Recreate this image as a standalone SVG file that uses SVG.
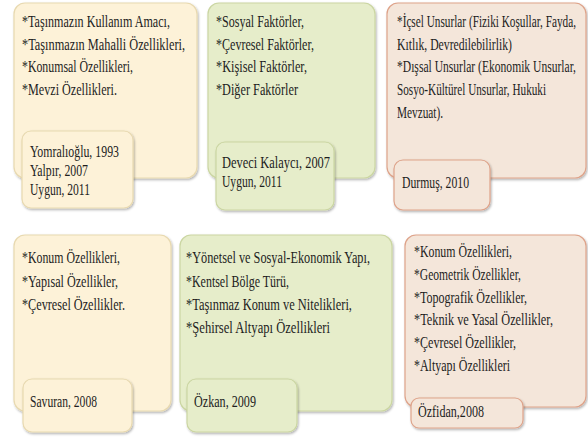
<svg xmlns="http://www.w3.org/2000/svg" width="588" height="437" viewBox="0 0 588 437">
<defs>
<filter id="sh" x="-10%" y="-10%" width="125%" height="130%">
<feDropShadow dx="1" dy="1.5" stdDeviation="1.2" flood-color="#000" flood-opacity="0.3"/>
</filter>
</defs>
<style>
.y{fill:#fdf2d8;stroke:#e8d9b0;stroke-width:1.2}
.g{fill:#e6edca;stroke:#cbd6a2;stroke-width:1.2}
.p{fill:#f4e6da;stroke:#dea38a;stroke-width:1.2}
.b{filter:url(#sh)}
text{font-family:"Liberation Serif","Times New Roman",serif;font-size:16px;fill:#1e1e1e}
</style>
<rect width="588" height="437" fill="#ffffff"/>
<g id="nodeA">
<rect class="y b" x="14" y="3" width="183" height="175" rx="11"/>
<g transform="translate(22 0) scale(0.78 1)">
<text x="0" y="27" textLength="189.7" lengthAdjust="spacingAndGlyphs">*Taşınmazın Kullanım Amacı,</text>
<text x="0" y="50" textLength="209" lengthAdjust="spacingAndGlyphs">*Taşınmazın Mahalli Özellikleri,</text>
<text x="0" y="72" textLength="142.3" lengthAdjust="spacingAndGlyphs">*Konumsal Özellikleri,</text>
<text x="0" y="95" textLength="121.8" lengthAdjust="spacingAndGlyphs">*Mevzi Özellikleri.</text>
</g>
</g>
<g id="refA">
<rect class="y b" x="22" y="131" width="111" height="77" rx="9"/>
<g transform="translate(30 0) scale(0.78 1)">
<text x="0" y="157" textLength="114.1" lengthAdjust="spacingAndGlyphs">Yomralıoğlu, 1993</text>
<text x="0" y="176" textLength="74.4" lengthAdjust="spacingAndGlyphs">Yalpır, 2007</text>
<text x="0" y="195" textLength="76.9" lengthAdjust="spacingAndGlyphs">Uygun, 2011</text>
</g>
</g>
<g id="nodeB">
<rect class="g b" x="208" y="3" width="167" height="175" rx="11"/>
<g transform="translate(216 0) scale(0.78 1)">
<text x="0" y="27" textLength="112.8" lengthAdjust="spacingAndGlyphs">*Sosyal Faktörler,</text>
<text x="0" y="50" textLength="125.6" lengthAdjust="spacingAndGlyphs">*Çevresel Faktörler,</text>
<text x="0" y="72" textLength="116.7" lengthAdjust="spacingAndGlyphs">*Kişisel Faktörler,</text>
<text x="0" y="95" textLength="105.1" lengthAdjust="spacingAndGlyphs">*Diğer Faktörler</text>
</g>
</g>
<g id="refB">
<rect class="g b" x="216" y="142" width="118" height="68" rx="9"/>
<g transform="translate(222 0) scale(0.78 1)">
<text x="0" y="168" textLength="138.5" lengthAdjust="spacingAndGlyphs">Deveci Kalaycı, 2007</text>
<text x="0" y="187" textLength="76.9" lengthAdjust="spacingAndGlyphs">Uygun, 2011</text>
</g>
</g>
<g id="nodeC">
<rect class="p b" x="387" y="3" width="199" height="175" rx="11"/>
<g transform="translate(397 0) scale(0.7 1)">
<text x="0" y="27" textLength="255.7" lengthAdjust="spacingAndGlyphs">*İçsel Unsurlar (Fiziki Koşullar, Fayda,</text>
<text x="0" y="50" textLength="164.3" lengthAdjust="spacingAndGlyphs">Kıtlık, Devredilebilirlik)</text>
<text x="0" y="72" textLength="255.7" lengthAdjust="spacingAndGlyphs">*Dışsal Unsurlar (Ekonomik Unsurlar,</text>
<text x="0" y="95" textLength="212.9" lengthAdjust="spacingAndGlyphs">Sosyo-Kültürel Unsurlar, Hukuki</text>
<text x="0" y="118" textLength="65.7" lengthAdjust="spacingAndGlyphs">Mevzuat).</text>
</g>
</g>
<g id="refC">
<rect class="p b" x="394" y="160" width="96" height="50" rx="9"/>
<g transform="translate(402 0) scale(0.78 1)">
<text x="0" y="188" textLength="85.9" lengthAdjust="spacingAndGlyphs">Durmuş, 2010</text>
</g>
</g>
<g id="nodeD">
<rect class="y b" x="14" y="235" width="157" height="176" rx="11"/>
<g transform="translate(22 0) scale(0.78 1)">
<text x="0" y="263" textLength="125.6" lengthAdjust="spacingAndGlyphs">*Konum Özellikleri,</text>
<text x="0" y="287" textLength="123.1" lengthAdjust="spacingAndGlyphs">*Yapısal Özellikler,</text>
<text x="0" y="310" textLength="132.1" lengthAdjust="spacingAndGlyphs">*Çevresel Özellikler.</text>
</g>
</g>
<g id="refD">
<rect class="y b" x="23" y="379" width="109" height="53" rx="9"/>
<g transform="translate(30 0) scale(0.78 1)">
<text x="0" y="407" textLength="85.9" lengthAdjust="spacingAndGlyphs">Savuran, 2008</text>
</g>
</g>
<g id="nodeE">
<rect class="g b" x="180" y="235" width="212" height="176" rx="11"/>
<g transform="translate(186 0) scale(0.78 1)">
<text x="0" y="263" textLength="235.9" lengthAdjust="spacingAndGlyphs">*Yönetsel ve Sosyal-Ekonomik Yapı,</text>
<text x="0" y="287" textLength="132.1" lengthAdjust="spacingAndGlyphs">*Kentsel Bölge Türü,</text>
<text x="0" y="310" textLength="212.8" lengthAdjust="spacingAndGlyphs">*Taşınmaz Konum ve Nitelikleri,</text>
<text x="0" y="333" textLength="184.6" lengthAdjust="spacingAndGlyphs">*Şehirsel Altyapı Özellikleri</text>
</g>
</g>
<g id="refE">
<rect class="g b" x="187" y="379" width="110" height="53" rx="9"/>
<g transform="translate(194 0) scale(0.78 1)">
<text x="0" y="407" textLength="79.5" lengthAdjust="spacingAndGlyphs">Özkan, 2009</text>
</g>
</g>
<g id="nodeF">
<rect class="p b" x="405" y="235" width="181" height="172" rx="11"/>
<g transform="translate(414 0) scale(0.78 1)">
<text x="0" y="257" textLength="125.6" lengthAdjust="spacingAndGlyphs">*Konum Özellikleri,</text>
<text x="0" y="280" textLength="137.2" lengthAdjust="spacingAndGlyphs">*Geometrik Özellikler,</text>
<text x="0" y="303" textLength="144.9" lengthAdjust="spacingAndGlyphs">*Topografik Özellikler,</text>
<text x="0" y="325" textLength="178.2" lengthAdjust="spacingAndGlyphs">*Teknik ve Yasal Özellikler,</text>
<text x="0" y="348" textLength="130.8" lengthAdjust="spacingAndGlyphs">*Çevresel Özellikler,</text>
<text x="0" y="371" textLength="123.1" lengthAdjust="spacingAndGlyphs">*Altyapı Özellikleri</text>
</g>
</g>
<g id="refF">
<rect class="p b" x="411" y="398" width="112" height="30" rx="8"/>
<g transform="translate(418 0) scale(0.78 1)">
<text x="0" y="417" textLength="84.6" lengthAdjust="spacingAndGlyphs">Özfidan,2008</text>
</g>
</g>
</svg>
